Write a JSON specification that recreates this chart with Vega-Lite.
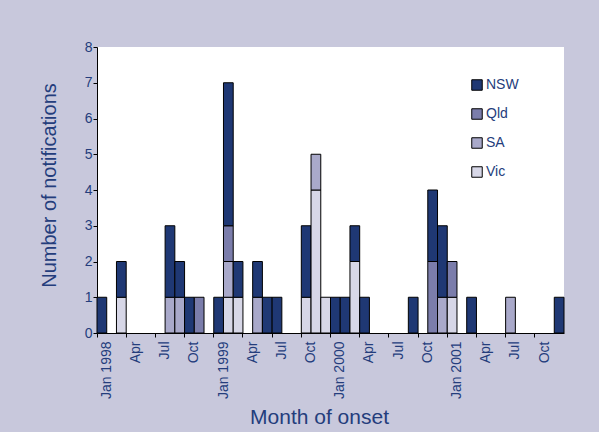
{
  "$schema": "https://vega.github.io/schema/vega-lite/v6.json",
  "width": 467,
  "height": 286,
  "autosize": {"type": "none"},
  "padding": {"left": 97, "top": 47, "right": 35, "bottom": 99},
  "background": "#c8c8dc",
  "view": {"fill": "#ffffff", "stroke": null},
  "config": {
    "font": "Liberation Sans",
    "axis": {"labelColor": "#243d7c", "titleColor": "#243d7c", "domainColor": "#000000", "tickColor": "#000000", "grid": false, "labelFontSize": 14, "titleFontSize": 20, "titleFontWeight": "normal", "tickSize": 4}
  },
  "data": {
    "values": [
      {"month": "Jan 1998", "state": "NSW", "n": 1},
      {"month": "Mar 1998", "state": "Vic", "n": 1},
      {"month": "Mar 1998", "state": "NSW", "n": 1},
      {"month": "Aug 1998", "state": "SA", "n": 1},
      {"month": "Aug 1998", "state": "NSW", "n": 2},
      {"month": "Sep 1998", "state": "SA", "n": 1},
      {"month": "Sep 1998", "state": "NSW", "n": 1},
      {"month": "Oct 1998", "state": "NSW", "n": 1},
      {"month": "Nov 1998", "state": "Qld", "n": 1},
      {"month": "Jan 1999", "state": "NSW", "n": 1},
      {"month": "Feb 1999", "state": "Vic", "n": 1},
      {"month": "Feb 1999", "state": "SA", "n": 1},
      {"month": "Feb 1999", "state": "Qld", "n": 1},
      {"month": "Feb 1999", "state": "NSW", "n": 4},
      {"month": "Mar 1999", "state": "Vic", "n": 1},
      {"month": "Mar 1999", "state": "NSW", "n": 1},
      {"month": "May 1999", "state": "SA", "n": 1},
      {"month": "May 1999", "state": "NSW", "n": 1},
      {"month": "Jun 1999", "state": "NSW", "n": 1},
      {"month": "Jul 1999", "state": "NSW", "n": 1},
      {"month": "Oct 1999", "state": "Vic", "n": 1},
      {"month": "Oct 1999", "state": "NSW", "n": 2},
      {"month": "Nov 1999", "state": "Vic", "n": 4},
      {"month": "Nov 1999", "state": "SA", "n": 1},
      {"month": "Dec 1999", "state": "Vic", "n": 1},
      {"month": "Jan 2000", "state": "NSW", "n": 1},
      {"month": "Feb 2000", "state": "NSW", "n": 1},
      {"month": "Mar 2000", "state": "Vic", "n": 2},
      {"month": "Mar 2000", "state": "NSW", "n": 1},
      {"month": "Apr 2000", "state": "NSW", "n": 1},
      {"month": "Sep 2000", "state": "NSW", "n": 1},
      {"month": "Nov 2000", "state": "Qld", "n": 2},
      {"month": "Nov 2000", "state": "NSW", "n": 2},
      {"month": "Dec 2000", "state": "SA", "n": 1},
      {"month": "Dec 2000", "state": "NSW", "n": 2},
      {"month": "Jan 2001", "state": "Vic", "n": 1},
      {"month": "Jan 2001", "state": "Qld", "n": 1},
      {"month": "Mar 2001", "state": "NSW", "n": 1},
      {"month": "Jul 2001", "state": "SA", "n": 1},
      {"month": "Dec 2001", "state": "NSW", "n": 1}
    ]
  },
  "mark": {"type": "bar", "stroke": "#000000", "strokeWidth": 1},
  "encoding": {
    "x": {
      "field": "month",
      "type": "ordinal",
      "title": "Month of onset",
      "scale": {
        "domain": ["Jan 1998","Feb 1998","Mar 1998","Apr 1998","May 1998","Jun 1998","Jul 1998","Aug 1998","Sep 1998","Oct 1998","Nov 1998","Dec 1998",
                   "Jan 1999","Feb 1999","Mar 1999","Apr 1999","May 1999","Jun 1999","Jul 1999","Aug 1999","Sep 1999","Oct 1999","Nov 1999","Dec 1999",
                   "Jan 2000","Feb 2000","Mar 2000","Apr 2000","May 2000","Jun 2000","Jul 2000","Aug 2000","Sep 2000","Oct 2000","Nov 2000","Dec 2000",
                   "Jan 2001","Feb 2001","Mar 2001","Apr 2001","May 2001","Jun 2001","Jul 2001","Aug 2001","Sep 2001","Oct 2001","Nov 2001","Dec 2001"],
        "paddingInner": 0,
        "paddingOuter": 0
      },
      "axis": {
        "values": ["Jan 1998","Apr 1998","Jul 1998","Oct 1998","Jan 1999","Apr 1999","Jul 1999","Oct 1999","Jan 2000","Apr 2000","Jul 2000","Oct 2000","Jan 2001","Apr 2001","Jul 2001","Oct 2001"],
        "bandPosition": 0,
        "labelOffset": 4.9,
        "labelAngle": -90,
        "labelAlign": "right",
        "labelBaseline": "middle",
        "labelPadding": 4,
        "labelExpr": "slice(datum.value, 0, 3) == 'Jan' ? datum.value : slice(datum.value, 0, 3)",
        "titleFontSize": 21,
        "titleX": 222,
        "titleY": 90,
        "titleBaseline": "alphabetic",
        "titleAlign": "center"
      }
    },
    "y": {
      "aggregate": "sum",
      "field": "n",
      "type": "quantitative",
      "title": "Number of notifications",
      "scale": {"domain": [0, 8]},
      "axis": {
        "values": [0,1,2,3,4,5,6,7,8],
        "labelPadding": 1,
        "titleX": -42,
        "titleY": 138,
        "titleAngle": -90,
        "titleBaseline": "alphabetic",
        "titleAlign": "center"
      }
    },
    "color": {
      "field": "state",
      "type": "nominal",
      "scale": {"domain": ["NSW","Qld","SA","Vic"], "range": ["#1f3874","#7b7dab","#a9a9ca","#d7d7e7"]},
      "legend": {
        "title": null,
        "orient": "none",
        "legendX": 373,
        "legendY": 31,
        "symbolType": "square",
        "symbolSize": 110,
        "symbolStrokeColor": "#000000",
        "symbolStrokeWidth": 1,
        "symbolOpacity": 1,
        "labelFontSize": 14,
        "labelColor": "#243d7c",
        "labelOffset": 2,
        "rowPadding": 13
      }
    },
    "order": {"field": "state", "sort": "descending"}
  }
}
